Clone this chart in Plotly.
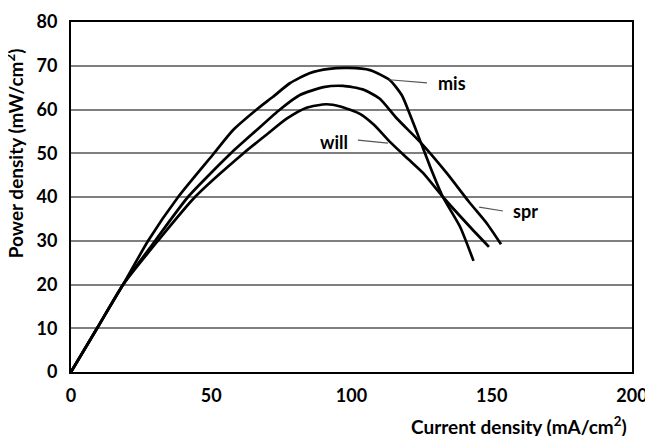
import plotly.graph_objects as go

# Data
mis_x = [0, 9.3, 18.6, 27.5, 38.2, 51, 57.8, 66.2, 72, 78, 85, 92, 99, 106.6, 113.7, 117.9, 120.2, 124.4, 128, 132.6, 138.7, 143.5]
mis_y = [0, 10, 20, 30, 40, 50, 55.3, 60, 62.9, 66, 68.3, 69.3, 69.5, 69, 66.7, 63.3, 59.9, 53, 47, 40, 33.2, 25.4]

spr_x = [0, 9.3, 18.6, 30, 41.7, 57, 66.2, 74.5, 81.6, 90, 97, 104, 110, 116.1, 125, 133.9, 142, 148.2, 153.3]
spr_y = [0, 10, 20, 30, 40, 50, 55.3, 60, 63.3, 65.1, 65.4, 64.6, 62.5, 58, 52.2, 45.5, 38.8, 34, 29.2]

will_x = [0, 9.3, 18.6, 31, 44.2, 61.5, 69.8, 76.9, 84, 91, 96, 103, 108, 113.7, 120.5, 125.5, 132.6, 142.2, 149]
will_y = [0, 10, 20, 30, 40, 50, 54.3, 57.9, 60.4, 61.2, 60.7, 59, 56.5, 52.6, 48.5, 45.5, 40, 33.2, 28.6]

labels = ["mis", "will", "spr"]
label_pos = [(130, 66.0), (93.8, 52.6), (161.9, 36.8)]
leader_lines = [((113.4, 66.8), (126.9, 66.1)), ((102.3, 53.0), (113.0, 52.3)), ((145.5, 37.7), (154.0, 36.8))]

x_ticks = [0, 50, 100, 150, 200]
y_ticks = [0, 10, 20, 30, 40, 50, 60, 70, 80]

FONT = "Lato"

fig = go.Figure()
for xs, ys in [(mis_x, mis_y), (spr_x, spr_y), (will_x, will_y)]:
    fig.add_trace(go.Scatter(x=xs, y=ys, mode="lines",
                             line=dict(color="black", width=2.7, shape="spline", smoothing=0.6),
                             showlegend=False, hoverinfo="skip"))

for (p0, p1) in leader_lines:
    fig.add_trace(go.Scatter(x=[p0[0], p1[0]], y=[p0[1], p1[1]], mode="lines",
                             line=dict(color="#555555", width=1.2),
                             showlegend=False, hoverinfo="skip"))

anns = []
for t, (lx, ly) in zip(labels, label_pos):
    anns.append(dict(x=lx, y=ly, xref="x", yref="y", text=t, showarrow=False,
                     xanchor="left" if t == "mis" else "center", yanchor="middle",
                     font=dict(family=FONT, size=18, color="black", weight="bold")))

anns.append(dict(x=1, y=-0.152, xref="paper", yref="paper", xanchor="right", yanchor="middle",
                 xshift=-3, text="Current density (mA/cm<sup>2</sup>)", showarrow=False,
                 font=dict(family=FONT, size=19, color="black", weight="bold")))
anns.append(dict(x=-0.1016, y=0.625, xref="paper", yref="paper", xanchor="center", yanchor="middle",
                 textangle=-90, text="Power density (mW/cm<sup>2</sup>)", showarrow=False,
                 font=dict(family=FONT, size=19, color="black", weight="bold")))

# page body has an 8px margin; compensate so the plot lands where the reference has it
fig.update_layout(
    width=645, height=428,
    margin=dict(l=63, r=21, t=14, b=64, autoexpand=False),
    paper_bgcolor="white", plot_bgcolor="white",
    annotations=anns,
    font=dict(family=FONT, color="black"),
)
fig.update_xaxes(range=[0, 200], tickvals=x_ticks, ticks="", showgrid=False,
                 showline=True, linecolor="black", linewidth=2, mirror=True,
                 ticklabelstandoff=6, automargin=False,
                 zeroline=False, tickfont=dict(family=FONT, size=18, color="black", weight="bold"))
fig.update_yaxes(range=[0, 80], tickvals=y_ticks, ticks="", showgrid=True,
                 gridcolor="#7f7f7f", gridwidth=1.5,
                 showline=True, linecolor="black", linewidth=2, mirror=True,
                 ticklabelstandoff=8, automargin=False,
                 zeroline=False, tickfont=dict(family=FONT, size=18, color="black", weight="bold"))

fig.write_html("out.html")
